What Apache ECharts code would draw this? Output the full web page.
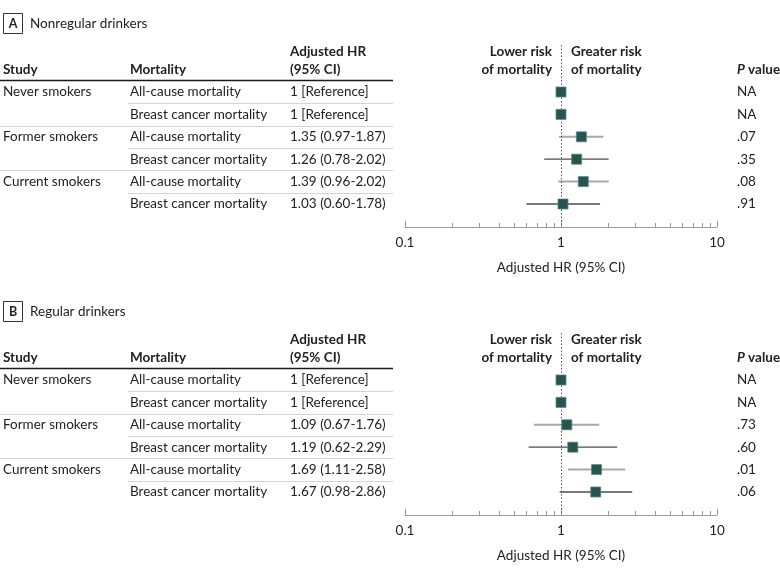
<!DOCTYPE html>
<html>
<head>
<meta charset="utf-8">
<script src="https://cdn.jsdelivr.net/npm/echarts@6/dist/echarts.min.js"></script>
<style>html,body{margin:0;padding:0;background:#fff}#c{width:780px;height:569px}</style>
</head>
<body>
<div id="c"></div>
<script>
// ---- data ----
const studies = ['Never smokers', 'Former smokers', 'Current smokers'];
const mortalityTypes = ['All-cause mortality', 'Breast cancer mortality'];
const panelLetters = ['A', 'B'];
const panelTitles = ['Nonregular drinkers', 'Regular drinkers'];

const hrA = [1, 1, 1.35, 1.26, 1.39, 1.03];
const loA = [null, null, 0.97, 0.78, 0.96, 0.60];
const hiA = [null, null, 1.87, 2.02, 2.02, 1.78];
const pA = ['NA', 'NA', '.07', '.35', '.08', '.91'];

const hrB = [1, 1, 1.09, 1.19, 1.69, 1.67];
const loB = [null, null, 0.67, 0.62, 1.11, 0.98];
const hiB = [null, null, 1.76, 2.29, 2.58, 2.86];
const pB = ['NA', 'NA', '.73', '.60', '.01', '.06'];

const minorTickValues = [0.2, 0.3, 0.4, 0.5, 0.6, 0.7, 0.8, 0.9, 2, 3, 4, 5, 6, 7, 8, 9];
const axisTitle = 'Adjusted HR (95% CI)';

// ---- styling / layout ----
const FONT = 'Lato, "Noto Sans", sans-serif';
const FS = 13.5;
const TXT = '#222';
const PANEL_DY = 288;
const Y_MIN = -2.098, Y_MAX = 6.027;
const COL_STUDY = 3, COL_MORT = 130, COL_HR = 290, COL_P = 737, TABLE_RIGHT = 393;

const panels = [
  {hr: hrA, lo: loA, hi: hiA, p: pA},
  {hr: hrB, lo: loB, hi: hiB, p: pB}
];

function hrLabel(hr, lo, hi) {
  if (lo == null) return hr + ' [Reference]';
  return hr.toFixed(2) + ' (' + lo.toFixed(2) + '-' + hi.toFixed(2) + ')';
}

function txt(x, y, text, opt) {
  return {type: 'text', style: Object.assign({
    x: x, y: y, text: text, fill: TXT, fontSize: FS, fontFamily: FONT,
    align: 'left', verticalAlign: 'middle'
  }, opt || {})};
}

const grids = [], xAxes = [], yAxes = [], series = [], graphic = [];

panels.forEach(function (pd, k) {
  const top = 45 + k * PANEL_DY;
  grids.push({left: 405, width: 312, top: top, height: 182});
  xAxes.push({
    gridIndex: k, type: 'log', logBase: 10, min: 0.1, max: 10, position: 'bottom',
    axisLine: {onZero: false, lineStyle: {color: '#9a9a9a', width: 1}},
    axisTick: {inside: true, length: 6, lineStyle: {color: '#9a9a9a'}},
    splitLine: {show: false},
    axisLabel: {color: TXT, fontSize: FS, fontFamily: FONT, margin: 9,
      formatter: function (v) { return String(+v.toPrecision(3)); }},
    name: axisTitle, nameLocation: 'middle', nameGap: 34,
    nameTextStyle: {color: TXT, fontSize: FS, fontFamily: FONT}
  });
  yAxes.push({gridIndex: k, type: 'value', inverse: true, min: Y_MIN, max: Y_MAX, show: false});

  // panel label / title
  graphic.push({type: 'rect', shape: {x: 3.5, y: 13.5 + k * PANEL_DY, width: 19, height: 20},
    style: {fill: 'none', stroke: '#333', lineWidth: 1}});
  graphic.push(txt(13, 24 + k * PANEL_DY, panelLetters[k], {align: 'center', fontWeight: 'bold', fontSize: 12.5}));
  graphic.push(txt(30, 24 + k * PANEL_DY, panelTitles[k]));

  const rows = pd.hr.map(function (h, i) { return [1, i]; });

  // table text + rules, positioned by the y scale
  series.push({
    type: 'custom', xAxisIndex: k, yAxisIndex: k, clip: false, silent: true, z: 1,
    data: rows, encode: {x: 0, y: 1},
    renderItem: function (params, api) {
      const i = api.value(1);
      const y = api.coord([1, i])[1];
      const yNext = api.coord([1, i + 1])[1];
      const x1 = api.coord([1, i])[0];
      const ch = [];
      if (i % 2 === 0) ch.push(txt(COL_STUDY, y, studies[i / 2]));
      ch.push(txt(COL_MORT, y, mortalityTypes[i % 2]));
      ch.push(txt(COL_HR, y, hrLabel(pd.hr[i], pd.lo[i], pd.hi[i])));
      ch.push(txt(COL_P, y, pd.p[i]));
      if (i < pd.hr.length - 1) {
        const ys = Math.round((y + yNext) / 2) + 0.5;
        ch.push({type: 'line', shape: {x1: i % 2 === 0 ? 128 : 0, y1: ys, x2: TABLE_RIGHT, y2: ys},
          style: {stroke: '#d4d4d4', lineWidth: 1}});
      }
      if (i === 0) {
        const yh = Math.round(y - 12) + 0.5;
        ch.push({type: 'line', shape: {x1: 0, y1: yh, x2: TABLE_RIGHT, y2: yh},
          style: {stroke: '#1a1a1a', lineWidth: 1.5}});
        const b = {fontWeight: 'bold'};
        ch.push(txt(COL_STUDY, y - 22, 'Study', b));
        ch.push(txt(COL_MORT, y - 22, 'Mortality', b));
        ch.push(txt(COL_HR, y - 40, 'Adjusted HR', b));
        ch.push(txt(COL_HR, y - 22, '(95% CI)', b));
        ch.push(txt(x1 - 9, y - 40, 'Lower risk', {align: 'right', fontWeight: 'bold'}));
        ch.push(txt(x1 - 9, y - 22, 'of mortality', {align: 'right', fontWeight: 'bold'}));
        ch.push(txt(x1 + 10, y - 40, 'Greater risk', b));
        ch.push(txt(x1 + 10, y - 22, 'of mortality', b));
        ch.push({type: 'text', style: {x: COL_P, y: y - 22, text: '{i|P} value', fill: TXT,
          fontSize: FS, fontFamily: FONT, fontWeight: 'bold', align: 'left', verticalAlign: 'middle',
          rich: {i: {fontStyle: 'italic', fontWeight: 'bold', fontSize: FS, fontFamily: FONT, fill: TXT}}}});
      }
      return {type: 'group', children: ch};
    }
  });

  // minor axis ticks
  series.push({
    type: 'custom', xAxisIndex: k, yAxisIndex: k, clip: false, silent: true,
    data: minorTickValues.map(function (v) { return [v, Y_MAX]; }), encode: {x: 0, y: 1},
    renderItem: function (params, api) {
      const p = api.coord([api.value(0), api.value(1)]);
      const x = Math.round(p[0]) + 0.5;
      return {type: 'line', shape: {x1: x, y1: p[1], x2: x, y2: p[1] - 4},
        style: {stroke: '#9a9a9a', lineWidth: 1}};
    }
  });

  // CI lines
  const ci = [];
  pd.hr.forEach(function (h, i) { if (pd.lo[i] != null) ci.push([pd.lo[i], pd.hi[i], i]); });
  series.push({
    type: 'custom', xAxisIndex: k, yAxisIndex: k, clip: false, silent: true, z: 3,
    data: ci, encode: {x: [0, 1], y: 2},
    renderItem: function (params, api) {
      const i = api.value(2);
      const a = api.coord([api.value(0), i]);
      const b = api.coord([api.value(1), i]);
      const light = i % 2 === 0;
      return {type: 'line', shape: {x1: a[0], y1: a[1], x2: b[0], y2: b[1]},
        style: {stroke: light ? '#a9a9a9' : '#4d4d4d', lineWidth: light ? 2 : 1.3}};
    }
  });

  // HR squares + reference line
  series.push({
    type: 'scatter', xAxisIndex: k, yAxisIndex: k, z: 5, silent: true,
    symbol: 'rect', symbolSize: 10,
    itemStyle: {color: '#255451', borderColor: '#5f8583', borderWidth: 0.8, opacity: 1},
    data: pd.hr.map(function (h, i) { return [h, i]; }),
    markLine: {
      silent: true, symbol: 'none', animation: false,
      label: {show: false},
      lineStyle: {type: [1.5, 2], color: '#555', width: 1},
      data: [{xAxis: 1}]
    }
  });
});

const chart = echarts.init(document.getElementById('c'), null, {renderer: 'canvas'});
chart.setOption({
  animation: false,
  backgroundColor: '#fff',
  grid: grids, xAxis: xAxes, yAxis: yAxes, series: series, graphic: graphic
});
</script>
</body>
</html>
